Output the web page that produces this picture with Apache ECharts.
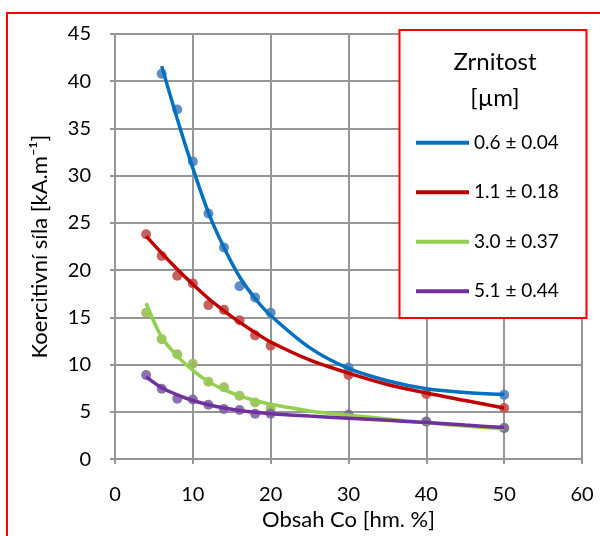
<!DOCTYPE html>
<html>
<head>
<meta charset="utf-8">
<script src="https://cdn.jsdelivr.net/npm/echarts@6/dist/echarts.min.js"></script>
<style>html,body{margin:0;padding:0;background:#fff;}#c{width:600px;height:536px;}</style>
</head>
<body>
<div id="c"></div>
<script>
// ---- data ----
const xTicks = [0, 10, 20, 30, 40, 50, 60];
const yTicks = [0, 5, 10, 15, 20, 25, 30, 35, 40, 45];
const seriesNames = ['0.6 ± 0.04', '1.1 ± 0.18', '3.0 ± 0.37', '5.1 ± 0.44'];

const xBlue = [6, 8, 10, 12, 14, 16, 18, 20, 30, 50];
const blueVals = [40.8, 37.0, 31.5, 26.0, 22.4, 18.3, 17.1, 15.5, 9.7, 6.8];

const xOthers = [4, 6, 8, 10, 12, 14, 16, 18, 20, 30, 40, 50];
const redVals = [23.8, 21.5, 19.4, 18.6, 16.3, 15.8, 14.7, 13.1, 12.0, 8.9, 6.9, 5.4];
const greenVals = [15.5, 12.7, 11.1, 10.1, 8.2, 7.6, 6.7, 6.0, 5.35, 4.7, 3.95, 3.3];
const purpleVals = [8.9, 7.45, 6.4, 6.3, 5.75, 5.3, 5.2, 4.8, 4.8, 4.7, 3.98, 3.3];

// trend lines
const blueTrendX = [6, 8, 10, 12, 14, 16, 18, 20, 25, 30, 35, 40, 45, 50];
const blueTrend = [41.6, 36.0, 30.8, 26.1, 22.4, 19.3, 17.0, 15.2, 11.8, 9.6, 8.3, 7.45, 7.05, 6.85];
const trendX = [4, 6, 8, 10, 12, 14, 16, 18, 20, 25, 30, 35, 40, 45, 50];
const redTrend = [23.6, 21.8, 20.1, 18.5, 17.0, 15.7, 14.5, 13.4, 12.4, 10.5, 9.1, 7.9, 7.0, 6.2, 5.4];
const greenTrend = [16.5, 12.9, 10.9, 9.4, 8.2, 7.35, 6.7, 6.2, 5.8, 5.1, 4.65, 4.25, 3.85, 3.5, 3.2];
const purpleTrend = [8.7, 7.55, 6.8, 6.2, 5.75, 5.4, 5.15, 4.95, 4.8, 4.55, 4.33, 4.1, 3.87, 3.6, 3.34];

const lineColors = ['#0070C0', '#C00000', '#92D050', '#7030A0'];
const markerColors = ['#4F81BD', '#C0504D', '#9BBB59', '#8064A2'];
const FONT = 'Lato';

const zip = (xs, ys) => xs.map((x, i) => [x, ys[i]]);

const pointSets = [zip(xBlue, blueVals), zip(xOthers, redVals), zip(xOthers, greenVals), zip(xOthers, purpleVals)];
const trendSets = [zip(blueTrendX, blueTrend), zip(trendX, redTrend), zip(trendX, greenTrend), zip(trendX, purpleTrend)];

const series = [];
pointSets.forEach((d, i) => {
  series.push({
    type: 'scatter', name: 'pts' + i, data: d, symbol: 'circle', symbolSize: 10,
    itemStyle: { color: markerColors[i], opacity: 0.9 }, z: 2 + i * 0.01, silent: true
  });
});
trendSets.forEach((d, i) => {
  series.push({
    type: 'line', name: seriesNames[i], data: d, showSymbol: false, symbol: 'none',
    smooth: 0.3, color: lineColors[i],
    lineStyle: { color: lineColors[i], width: 3.5 }, z: 3 + i * 0.01, silent: true
  });
});

const chart = echarts.init(document.getElementById('c'), null, { renderer: 'canvas' });
chart.setOption({
  backgroundColor: '#fff',
  animation: false,
  textStyle: { fontFamily: FONT },
  grid: { left: 115, right: 18, top: 34, bottom: 76, containLabel: false },
  xAxis: {
    type: 'value', min: xTicks[0], max: xTicks[xTicks.length - 1], interval: 10,
    name: 'Obsah Co [hm. %]', nameLocation: 'middle', nameGap: 47,
    nameTextStyle: { fontSize: 22, color: '#000', fontFamily: FONT },
    axisLine: { show: true, lineStyle: { color: '#969696', width: 2 } },
    axisTick: { show: true, length: 5, lineStyle: { color: '#969696', width: 2 } },
    axisLabel: { fontSize: 20, color: '#000', margin: 25, fontFamily: FONT },
    splitLine: { show: true, lineStyle: { color: '#969696', width: 2 } }
  },
  yAxis: {
    type: 'value', min: yTicks[0], max: yTicks[yTicks.length - 1], interval: 5,
    name: 'Koercitivní síla [kA.m⁻¹]', nameLocation: 'middle', nameGap: 64,
    nameTextStyle: { fontSize: 22, color: '#000', fontFamily: FONT },
    axisLine: { show: true, lineStyle: { color: '#969696', width: 2 } },
    axisTick: { show: true, length: 5, lineStyle: { color: '#969696', width: 2 } },
    axisLabel: { fontSize: 20, color: '#000', margin: 24, fontFamily: FONT },
    splitLine: { show: true, lineStyle: { color: '#969696', width: 2 } }
  },
  legend: {
    data: seriesNames, orient: 'vertical', left: 416, top: 132.7, padding: 0,
    itemWidth: 53, itemHeight: 4, itemGap: 29.5, icon: 'rect',
    textStyle: { fontSize: 19, color: '#000', lineHeight: 20, fontFamily: FONT },
    selectedMode: false, z: 10
  },
  graphic: [
    { type: 'rect', z: -1, silent: true, shape: { x: 7, y: 13, width: 640, height: 580 },
      style: { fill: 'none', stroke: '#ff0000', lineWidth: 2 } },
    { type: 'rect', z: 5, silent: true, shape: { x: 399.5, y: 30, width: 187, height: 288 },
      style: { fill: '#fff', stroke: '#ff0000', lineWidth: 2 } },
    { type: 'text', z: 11, silent: true, x: 495, y: 62,
      style: { text: 'Zrnitost', fontSize: 24, fontFamily: FONT, fill: '#000', textAlign: 'center', textVerticalAlign: 'middle' } },
    { type: 'text', z: 11, silent: true, x: 495, y: 98,
      style: { text: '[µm]', fontSize: 24, fontFamily: FONT, fill: '#000', textAlign: 'center', textVerticalAlign: 'middle' } }
  ],
  series: series
});
</script>
</body>
</html>
